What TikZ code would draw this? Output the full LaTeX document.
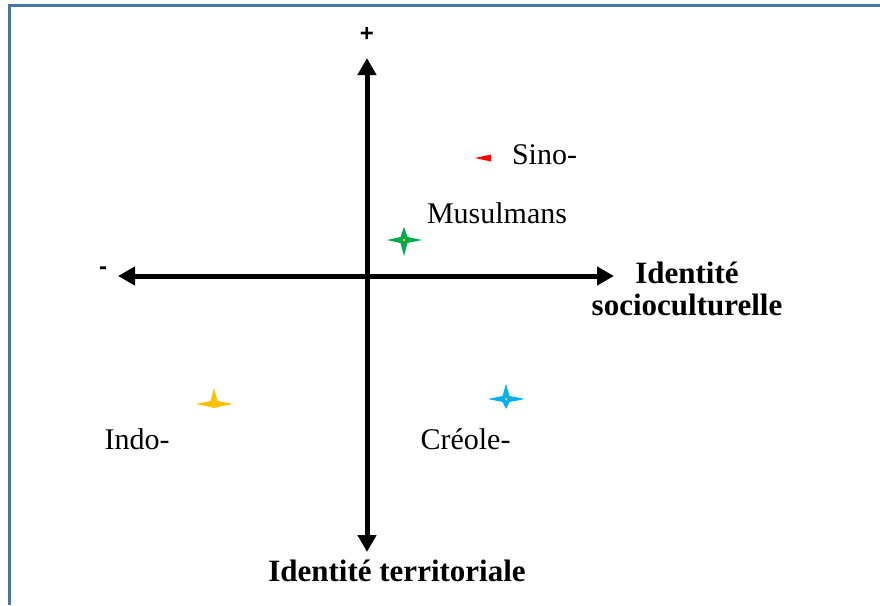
\documentclass[tikz,border=0pt]{standalone}
\usepackage{fontspec}
\setmainfont{Liberation Serif}
\newfontfamily\signfont{Liberation Sans}
\usetikzlibrary{arrows.meta}
\definecolor{frameblue}{RGB}{72,116,166}
\definecolor{stargreen}{RGB}{0,168,80}
\definecolor{staryellow}{RGB}{255,192,0}
\definecolor{starblue}{RGB}{0,176,240}
\tikzset{
  axis/.style={line width=5pt, {Triangle[length=17pt,width=18pt]}-{Triangle[length=17pt,width=18pt]}},
  lbl/.style={inner sep=0pt, anchor=base, font=\fontsize{30}{33}\selectfont},
  bold lbl/.style={inner sep=0pt, anchor=base, align=center, font=\fontsize{31}{32}\selectfont\bfseries},
  sign/.style={inner sep=0pt, font=\fontsize{24}{26}\selectfont\signfont\bfseries},
  frame/.style={draw=frameblue, line width=3pt}
}
% x, y, colour, left, right, up, down
\newcommand\quadstar[7]{%
  \fill[#3] (#1-#4,#2) -- (#1-3.5,#2-3) -- (#1,#2-#6) -- (#1+3.5,#2-3) -- (#1+#5,#2)
    -- (#1+3.5,#2+3) -- (#1,#2+#7) -- (#1-3.5,#2+3) -- cycle;}
\begin{document}
\begin{tikzpicture}[x=1pt,y=-1pt]
\useasboundingbox (0,0) rectangle (880,605);
% frame (top and left edges)
\draw[frame] (9.5,605) -- (9.5,5.3) -- (880,5.3);
% axes
\coordinate (top) at (367,58);
\coordinate (bottom) at (367,552);
\coordinate (left) at (118,276);
\coordinate (right) at (614,276);
\draw[axis] (bottom) -- (top);
\draw[axis] (left) -- (right);
% axis labels
\node[sign] (plus) at (367,34) {+};
\node[sign] (minus) at (103,271) {-};
\node[bold lbl] (socio) at (687,315) {Identité\\socioculturelle};
\node[bold lbl] (terr) at (397,581) {Identité territoriale};
% group labels
\node[lbl] (sino) at (544.5,164) {Sino-};
\node[lbl] (musul) at (497,223.5) {Musulmans};
\node[lbl] (indo) at (137,449) {Indo-};
\node[lbl] (creole) at (465.5,449) {Créole-};
% markers
\fill[red] (475,158) -- (491,154.5) -- (491,161.5) -- cycle;
\quadstar{404}{240}{stargreen}{17}{18}{13}{16}
\fill[staryellow] (404,240) circle (1.5);
\quadstar{214}{404}{staryellow}{18}{19}{16}{4}
\quadstar{506}{399}{starblue}{18}{19}{15}{10}
\fill[staryellow] (506,399) circle (1.5);
\end{tikzpicture}
\end{document}
